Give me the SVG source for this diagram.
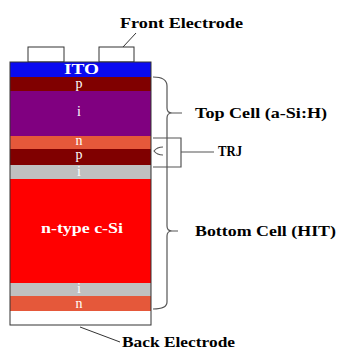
<svg xmlns="http://www.w3.org/2000/svg" width="339" height="350" viewBox="0 0 339 350">
<style>
.lbl{font-family:"Liberation Serif","Times New Roman",serif;font-weight:bold;font-size:15px;fill:#000}
.lay{font-family:"Liberation Serif","Times New Roman",serif;font-size:14px;fill:#fff;text-anchor:middle}
.b{font-weight:bold;font-size:15px}
.ln{fill:none;stroke:#333;stroke-width:1}
.br{fill:none;stroke:#555;stroke-width:1.2}
</style>
<rect width="339" height="350" fill="#fff"/>
<g id="front-electrodes">
<rect x="28" y="47" width="36" height="15" fill="#fff" stroke="#333" stroke-width="1"/>
<rect x="99" y="47" width="35" height="15" fill="#fff" stroke="#333" stroke-width="1"/>
</g>
<g id="stack">
<rect id="ito" x="10" y="62" width="141" height="15" fill="#0a0af0"/>
<rect id="p-top" x="10" y="77" width="141" height="14" fill="#800000"/>
<rect id="i-top" x="10" y="91" width="141" height="45" fill="#800080"/>
<rect id="n-top" x="10" y="136" width="141" height="13" fill="#e5583a"/>
<rect id="p-mid" x="10" y="149" width="141" height="16" fill="#800000"/>
<rect id="i-mid" x="10" y="165" width="141" height="14" fill="#c0c0c0"/>
<rect id="csi" x="10" y="179" width="141" height="104" fill="#ff0000"/>
<rect id="i-bot" x="10" y="283" width="141" height="13" fill="#c0c0c0"/>
<rect id="n-bot" x="10" y="296" width="141" height="15" fill="#e5583a"/>
<rect id="back" x="10" y="311" width="141" height="14" fill="#fff"/>
<rect x="10" y="62" width="141" height="263" fill="none" stroke="#333" stroke-width="1"/>
<text class="lay b" x="81.5" y="74" textLength="35" lengthAdjust="spacingAndGlyphs">ITO</text>
<text class="lay" x="79" y="87.5">p</text>
<text class="lay" x="79" y="116">i</text>
<text class="lay" x="79" y="145">n</text>
<text class="lay" x="79" y="159">p</text>
<text class="lay" x="79" y="176">i</text>
<text class="lay b" x="82" y="233" textLength="82" lengthAdjust="spacingAndGlyphs">n-type c-Si</text>
<text class="lay" x="79" y="293">i</text>
<text class="lay" x="79" y="307.5">n</text>
</g>
<g id="connectors">
<path class="ln" d="M123,47 L136,33"/>
<path class="ln" d="M80,327 L120,342"/>
<path class="br" d="M153,77 Q167,77 167,86 L167,108 Q167,113 172,113 L182,113 M172,113 Q167,113 167,118 L167,226 Q167,231 172,231 L178,231 M172,231 Q167,231 167,236 L167,302 Q167,309 153,309"/>
<path class="br" d="M153,138 L181,138 L181,167 L153,167 M181,152 L214,152 M163,147 Q157,147 154,151 Q157,155 163,155"/>
</g>
<g id="labels">
<text class="lbl" x="120" y="28" textLength="123" lengthAdjust="spacingAndGlyphs">Front Electrode</text>
<text class="lbl" x="195" y="118" textLength="132" lengthAdjust="spacingAndGlyphs">Top Cell (a-Si:H)</text>
<text class="lbl" x="218" y="156" textLength="24" lengthAdjust="spacingAndGlyphs">TRJ</text>
<text class="lbl" x="195" y="236" textLength="141" lengthAdjust="spacingAndGlyphs">Bottom Cell (HIT)</text>
<text class="lbl" x="122" y="347" textLength="113" lengthAdjust="spacingAndGlyphs">Back Electrode</text>
</g>
</svg>
